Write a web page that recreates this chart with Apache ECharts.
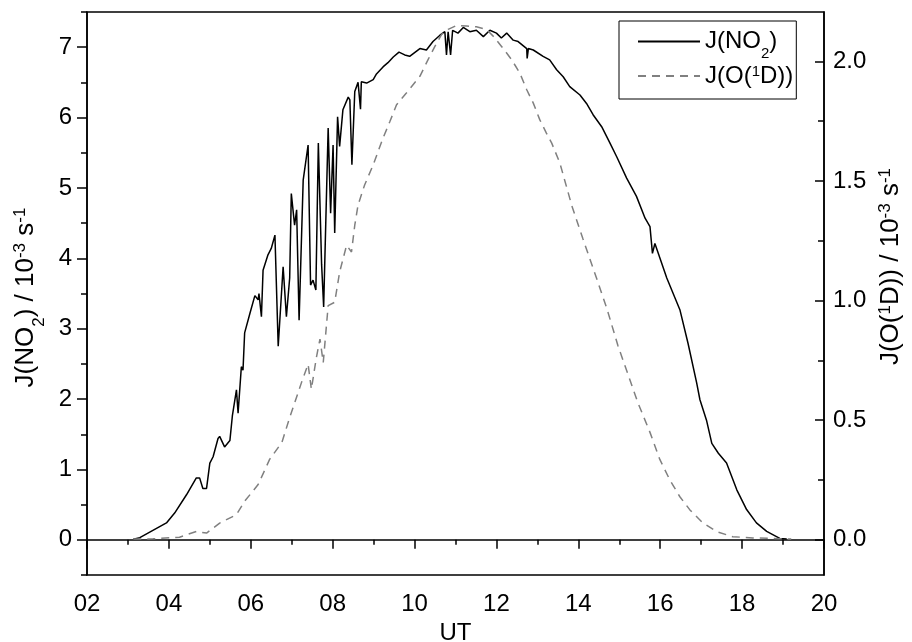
<!DOCTYPE html>
<html>
<head>
<meta charset="utf-8">
<script src="https://cdn.jsdelivr.net/npm/echarts@6/dist/echarts.min.js"></script>
<style>
  html, body { margin: 0; padding: 0; background: #fff; }
  #chart { width: 912px; height: 642px; }
</style>
</head>
<body>
<div id="chart"></div>
<script>
// J(NO2), left axis, 10^-3 s^-1
var noTime = [3.13, 3.29, 3.94, 4.14, 4.43, 4.67, 4.75, 4.83, 4.92, 5.00, 5.08, 5.20, 5.24, 5.36, 5.49,
  5.55, 5.65, 5.69, 5.77, 5.81, 5.85, 5.98, 6.10, 6.18, 6.20, 6.26, 6.30, 6.42, 6.50, 6.59, 6.67,
  6.79, 6.87, 6.95, 6.99, 7.03, 7.07, 7.12, 7.18, 7.28, 7.40, 7.46, 7.52, 7.59, 7.65, 7.73, 7.78,
  7.89, 7.95, 8.01, 8.05, 8.12, 8.17, 8.25, 8.38, 8.42, 8.47, 8.54, 8.62, 8.68, 8.70, 8.83, 8.99,
  9.07, 9.23, 9.35, 9.48, 9.62, 9.76, 9.88, 10.13, 10.29, 10.45, 10.62, 10.74, 10.78, 10.82, 10.88,
  10.93, 11.06, 11.19, 11.35, 11.51, 11.68, 11.84, 12.00, 12.12, 12.25, 12.41, 12.53, 12.74, 12.75,
  12.78, 12.90, 13.14, 13.30, 13.47, 13.63, 13.79, 14.04, 14.20, 14.36, 14.57, 14.77, 14.94, 15.18,
  15.42, 15.63, 15.75, 15.81, 15.87, 16.16, 16.48, 16.68, 16.89, 16.97, 17.13, 17.26, 17.42, 17.62,
  17.87, 18.11, 18.35, 18.60, 18.92, 19.09];
var noValue = [0.01, 0.03, 0.24, 0.38, 0.64, 0.88, 0.88, 0.73, 0.73, 1.09, 1.18, 1.44, 1.47, 1.32, 1.41,
  1.76, 2.13, 1.80, 2.46, 2.41, 2.94, 3.22, 3.47, 3.41, 3.50, 3.17, 3.83, 4.05, 4.14, 4.33, 2.75,
  3.88, 3.17, 3.72, 4.92, 4.90, 4.47, 4.69, 3.12, 5.11, 5.61, 3.62, 3.69, 3.55, 5.64, 3.91, 3.31,
  5.85, 4.64, 5.61, 4.36, 6.01, 5.59, 6.11, 6.29, 6.25, 5.33, 6.37, 6.50, 6.12, 6.51, 6.49, 6.54,
  6.62, 6.72, 6.78, 6.86, 6.93, 6.89, 6.87, 6.98, 6.96, 7.08, 7.17, 7.22, 6.89, 7.22, 6.89,
  7.24, 7.20, 7.28, 7.22, 7.24, 7.15, 7.24, 7.20, 7.13, 7.20, 7.10, 7.08, 6.98, 6.84,
  6.98, 6.96, 6.87, 6.82, 6.68, 6.58, 6.44, 6.32, 6.20, 6.04, 5.87, 5.64, 5.44, 5.14,
  4.88, 4.57, 4.45, 4.07, 4.21, 3.72, 3.27, 2.79, 2.23, 1.99, 1.70, 1.37, 1.23, 1.09,
  0.71, 0.43, 0.24, 0.12, 0.02, 0.01];

// J(O1D), right axis, 10^-3 s^-1
var o1dTime = [3.13, 3.61, 4.26, 4.67, 4.92, 5.24, 5.65, 5.85, 6.18, 6.46, 6.76, 6.95, 7.24, 7.40, 7.48,
  7.60, 7.69, 7.77, 7.89, 8.05, 8.17, 8.34, 8.46, 8.54, 8.62, 8.78, 8.99, 9.23, 9.40, 9.56, 9.80,
  10.13, 10.33, 10.50, 10.66, 10.82, 11.03, 11.27, 11.51, 11.76, 11.92, 12.12, 12.37, 12.57, 12.74,
  12.90, 13.06, 13.22, 13.35, 13.55, 13.84, 14.11, 14.45, 14.70, 14.97, 15.45, 15.75, 15.99, 16.23,
  16.48, 16.72, 17.04, 17.38, 17.77, 18.26, 19.09, 19.20];
var o1dValue = [0.003, 0.004, 0.011, 0.035, 0.028, 0.070, 0.105, 0.161, 0.231, 0.336, 0.407, 0.511, 0.658, 0.734, 0.629,
  0.760, 0.839, 0.741, 0.979, 0.993, 1.119, 1.231, 1.203, 1.315, 1.399, 1.483, 1.567, 1.679, 1.749, 1.818, 1.867,
  1.937, 2.007, 2.063, 2.112, 2.133, 2.150, 2.147, 2.144, 2.133, 2.105, 2.063, 2.007, 1.951, 1.881,
  1.825, 1.755, 1.700, 1.658, 1.574, 1.397, 1.259, 1.091, 0.965, 0.810, 0.575, 0.449, 0.336, 0.252,
  0.180, 0.126, 0.071, 0.034, 0.013, 0.008, 0.004, 0.003];

var leftTicks = [0, 1, 2, 3, 4, 5, 6, 7];
var rightTicks = [0, 0.5, 1.0, 1.5, 2.0];

var FONT = 'Liberation Sans, Arial, sans-serif';
var leftMin = -0.5, leftMax = 7.5;
var rightMin = leftMin / 3.4, rightMax = leftMax / 3.4;

function pairs(xs, ys) {
  return xs.map(function (x, i) { return [x, ys[i]]; });
}
function steps(from, to, step) {
  var out = [];
  for (var v = from; v <= to + 1e-9; v += step) out.push(Math.round(v * 1000) / 1000);
  return out;
}
// sub/superscripts: shift small text down/up with one-sided padding
function richSet(size, small, lh, subPad, supPad) {
  return {
    n: { fontSize: size, lineHeight: lh, fontFamily: FONT, color: '#000' },
    sub: { fontSize: small, lineHeight: lh, fontFamily: FONT, color: '#000', padding: [subPad, 0, 0, 0] },
    sup: { fontSize: small, lineHeight: lh, fontFamily: FONT, color: '#000', padding: [0, 0, supPad, 0] }
  };
}

var axisLine = { show: true, lineStyle: { color: '#000', width: 1.5 } };

var option = {
  animation: false,
  backgroundColor: '#fff',
  grid: {
    left: 87, right: 88, top: 12, bottom: 67,
    outerBoundsMode: 'none',
    show: true, borderColor: '#000', borderWidth: 1.5
  },
  legend: {
    orient: 'vertical',
    left: 619,
    top: 21,
    padding: [1, 3, 11, 18],
    itemGap: 3,
    itemWidth: 62,
    itemHeight: 14,
    borderColor: '#000',
    borderWidth: 1,
    itemStyle: { color: 'rgba(0,0,0,0)', borderWidth: 0 },
    data: ['J(NO2)', 'J(O(1D))'],
    formatter: function (name) {
      if (name === 'J(NO2)') return '{n|J(NO}{sub|2}{n|)}';
      return '{n|J(O(}{sup|1}{n|D))}';
    },
    textStyle: { fontFamily: FONT, fontSize: 24, color: '#000', rich: richSet(24, 15, 26, 24, 8) }
  },
  xAxis: {
    type: 'value',
    min: 2,
    max: 20,
    interval: 2,
    axisLine: axisLine,
    axisTick: { show: true, length: 9, lineStyle: { color: '#000', width: 1.5 } },
    minorTick: { show: true, splitNumber: 2, length: 5, lineStyle: { color: '#000', width: 1.5 } },
    splitLine: { show: false },
    axisLabel: {
      fontFamily: FONT, fontSize: 24, color: '#000', margin: 17,
      formatter: function (v) { return v < 10 ? '0' + v : String(v); }
    },
    name: 'UT',
    nameLocation: 'middle',
    nameGap: 39,
    nameTextStyle: { fontFamily: FONT, fontSize: 24, color: '#000' }
  },
  yAxis: [
    {
      type: 'value',
      position: 'left',
      min: leftMin,
      max: leftMax,
      axisLine: axisLine,
      axisTick: { show: true, length: 10, customValues: leftTicks, lineStyle: { color: '#000', width: 1.5 } },
      axisLabel: { fontFamily: FONT, fontSize: 24, color: '#000', margin: 15, customValues: leftTicks },
      splitLine: { show: false },
      name: '{n|J(NO}{sub|2}{n|) / 10}{sup|-3}{n| s}{sup|-1}',
      nameLocation: 'middle',
      nameRotate: 90,
      nameGap: 44,
      nameTextStyle: { fontFamily: FONT, fontSize: 26, color: '#000', padding: [0, 8, 0, 0], rich: richSet(26, 17, 30, 27, 10) }
    },
    {
      type: 'value',
      position: 'right',
      min: rightMin,
      max: rightMax,
      axisLine: axisLine,
      axisTick: { show: true, inside: true, length: 9, customValues: rightTicks, lineStyle: { color: '#000', width: 1.5 } },
      axisLabel: {
        fontFamily: FONT, fontSize: 24, color: '#000', margin: 9, customValues: rightTicks,
        formatter: function (v) { return v.toFixed(1); }
      },
      splitLine: { show: false },
      name: '{n|J(O(}{sup|1}{n|D)) / 10}{sup|-3}{n| s}{sup|-1}',
      nameLocation: 'middle',
      nameRotate: 90,
      nameGap: 51,
      nameTextStyle: { fontFamily: FONT, fontSize: 26, color: '#000', padding: [0, 0, 0, 54], rich: richSet(26, 17, 30, 27, 10) }
    },
    {
      type: 'value',
      position: 'left',
      min: leftMin,
      max: leftMax,
      axisLine: { show: false },
      axisTick: { show: true, length: 6, customValues: steps(-0.5, 7.5, 0.5), lineStyle: { color: '#000', width: 1.5 } },
      axisLabel: { show: false },
      splitLine: { show: false }
    },
    {
      type: 'value',
      position: 'right',
      min: rightMin,
      max: rightMax,
      axisLine: { show: false },
      axisTick: { show: true, inside: true, length: 6, customValues: steps(0, 2, 0.25), lineStyle: { color: '#000', width: 1.5 } },
      axisLabel: { show: false },
      splitLine: { show: false }
    }
  ],
  series: [
    {
      name: 'J(NO2)',
      type: 'line',
      yAxisIndex: 0,
      symbol: 'none',
      lineStyle: { color: '#000', width: 1.5 },
      itemStyle: { color: '#000' },
      data: pairs(noTime, noValue)
    },
    {
      name: 'J(O(1D))',
      type: 'line',
      yAxisIndex: 1,
      symbol: 'none',
      lineStyle: { color: '#808080', width: 1.5, type: [8, 6] },
      itemStyle: { color: '#808080' },
      data: pairs(o1dTime, o1dValue)
    }
  ]
};

var myChart = echarts.init(document.getElementById('chart'));
myChart.setOption(option);
</script>
</body>
</html>
